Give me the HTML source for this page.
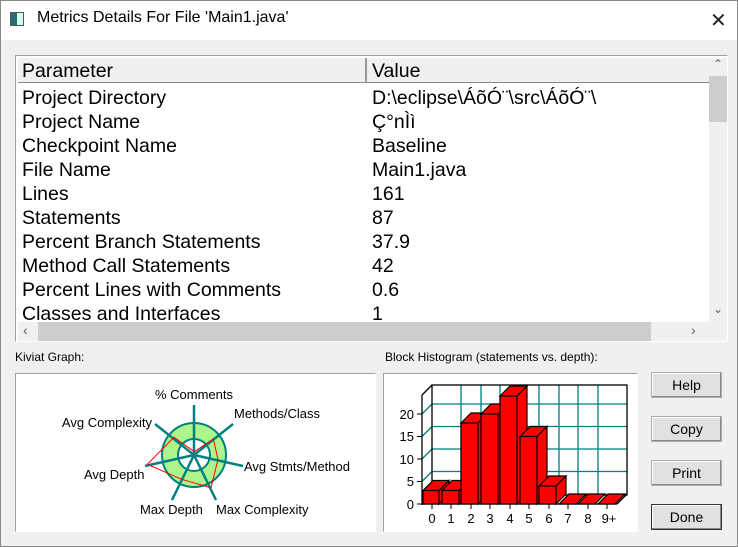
<!DOCTYPE html>
<html><head><style>
*{margin:0;padding:0;box-sizing:border-box}
body{width:738px;height:547px;overflow:hidden;background:#f0f0f0;font-family:"Liberation Sans",Arial,sans-serif;position:relative}
.a{position:absolute;white-space:nowrap}
.row{position:absolute;font-size:19.5px;color:#000;line-height:24px}
.btn{position:absolute;left:651px;width:71px;height:26px;background:#e1e1e1;border:1px solid #adadad;box-shadow:inset -1px -1px 0 #888, inset 1px 1px 0 #fff;font-size:14px;text-align:center;line-height:24px}
</style></head><body>
<div class="a" style="left:0;top:0;width:738px;height:40px;background:#fff"></div>
<div class="a" style="left:0;top:0;width:738px;height:547px;border:1px solid #888"></div>
<div class="a" style="left:10px;top:12px;width:14px;height:14px;border:1px solid #555;background:linear-gradient(90deg,#2a6c7a 0 50%,#cfe 50%)"></div>
<div class="a" style="left:37px;top:9px;font-size:16px">Metrics Details For File 'Main1.java'</div>
<div class="a" style="left:710px;top:8px;font-size:20px;font-weight:300;color:#222">✕</div>

<div class="a" style="left:15px;top:55px;width:713px;height:287px;border:1px solid #a0a0a0;border-right-color:#fff;border-bottom-color:#fff;background:#fff;overflow:hidden">
<div class="a" style="left:2px;top:2px;width:692px;height:25px;background:#f0f0f0;border-bottom:1px solid #888"></div>
<div class="a" style="left:349px;top:2px;width:2px;height:25px;background:#999"></div>
<div class="row" style="left:6px;top:3px">Parameter</div><div class="row" style="left:356px;top:3px">Value</div>
<div class="row" style="left:6px;top:30px">Project Directory</div><div class="row" style="left:356px;top:30px">D:\eclipse\ÁõÓ¨\src\ÁõÓ¨\</div>
<div class="row" style="left:6px;top:54px">Project Name</div><div class="row" style="left:356px;top:54px">Ç°nÌì</div>
<div class="row" style="left:6px;top:78px">Checkpoint Name</div><div class="row" style="left:356px;top:78px">Baseline</div>
<div class="row" style="left:6px;top:102px">File Name</div><div class="row" style="left:356px;top:102px">Main1.java</div>
<div class="row" style="left:6px;top:126px">Lines</div><div class="row" style="left:356px;top:126px">161</div>
<div class="row" style="left:6px;top:150px">Statements</div><div class="row" style="left:356px;top:150px">87</div>
<div class="row" style="left:6px;top:174px">Percent Branch Statements</div><div class="row" style="left:356px;top:174px">37.9</div>
<div class="row" style="left:6px;top:198px">Method Call Statements</div><div class="row" style="left:356px;top:198px">42</div>
<div class="row" style="left:6px;top:222px">Percent Lines with Comments</div><div class="row" style="left:356px;top:222px">0.6</div>
<div class="row" style="left:6px;top:246px">Classes and Interfaces</div><div class="row" style="left:356px;top:246px">1</div>
<div class="a" style="left:693px;top:2px;width:18px;height:265px;background:#f0f0f0"></div>
<div class="a" style="left:693px;top:20px;width:18px;height:46px;background:#cdcdcd"></div>
<div class="a" style="left:697px;top:1px;font-size:12px;color:#606060">⌃</div>
<div class="a" style="left:697px;top:246px;font-size:12px;color:#606060">⌄</div>
<div class="a" style="left:2px;top:266px;width:709px;height:19px;background:#f0f0f0"></div>
<div class="a" style="left:22px;top:266px;width:613px;height:19px;background:#cdcdcd"></div>
<div class="a" style="left:7px;top:266px;font-size:14px;color:#606060">‹</div>
<div class="a" style="left:675px;top:266px;font-size:14px;color:#606060">›</div>
</div>

<div class="a" style="left:15px;top:350px;font-size:12px">Kiviat Graph:</div>
<div class="a" style="left:385px;top:350px;font-size:12px">Block Histogram (statements vs. depth):</div>
<div class="a" style="left:15px;top:373px;width:361px;height:159px;background:#fff;border:1px solid #a0a0a0;border-right-color:#fff;border-bottom-color:#fff"></div>
<div class="a" style="left:383px;top:373px;width:255px;height:159px;background:#fff;border:1px solid #a0a0a0;border-right-color:#fff;border-bottom-color:#fff"></div>

<div class="btn" style="top:372px">Help</div>
<div class="btn" style="top:416px">Copy</div>
<div class="btn" style="top:460px">Print</div>
<div class="btn" style="top:504px;border:1px solid #333">Done</div>

<svg class="a" style="left:0;top:0" width="738" height="547" font-family="Liberation Sans, Arial, sans-serif">
<circle cx="194" cy="455" r="24" fill="none" stroke="#adf58a" stroke-width="16"/>
<circle cx="194" cy="455" r="32" fill="none" stroke="#008080" stroke-width="2"/>
<circle cx="194" cy="455" r="16" fill="none" stroke="#008080" stroke-width="2"/>
<g stroke="#008080" stroke-width="2.5">
<line x1="194" y1="455" x2="194" y2="405"/>
<line x1="194" y1="455" x2="233" y2="424"/>
<line x1="194" y1="455" x2="243" y2="466"/>
<line x1="194" y1="455" x2="216" y2="500"/>
<line x1="194" y1="455" x2="172" y2="500"/>
<line x1="194" y1="455" x2="145" y2="466"/>
<line x1="194" y1="455" x2="155" y2="424"/>
</g>
<polygon points="194.3,451.7 213.3,439 218,459.3 211,487.7 181.7,479.3 147.3,464.3 174,437.3" fill="none" stroke="#f00" stroke-width="1"/>
<g font-size="13" fill="#000">
<text x="194" y="399" text-anchor="middle">% Comments</text>
<text x="234" y="418">Methods/Class</text>
<text x="152" y="427" text-anchor="end">Avg Complexity</text>
<text x="244" y="471">Avg Stmts/Method</text>
<text x="84" y="479">Avg Depth</text>
<text x="140" y="514">Max Depth</text>
<text x="216" y="514">Max Complexity</text>
</g>
<g stroke="#008080" stroke-width="1.3">
<line x1="432" y1="471.5" x2="627" y2="471.5"/><line x1="432" y1="449" x2="627" y2="449"/>
<line x1="432" y1="426.5" x2="627" y2="426.5"/><line x1="432" y1="404" x2="627" y2="404"/>
<line x1="422" y1="481.5" x2="432" y2="471.5"/><line x1="422" y1="459" x2="432" y2="449"/>
<line x1="422" y1="436.5" x2="432" y2="426.5"/><line x1="422" y1="414" x2="432" y2="404"/>
<line x1="461" y1="385" x2="461" y2="494"/><line x1="481" y1="385" x2="481" y2="494"/>
<line x1="500" y1="385" x2="500" y2="494"/><line x1="520" y1="385" x2="520" y2="494"/>
<line x1="539" y1="385" x2="539" y2="494"/><line x1="559" y1="385" x2="559" y2="494"/>
<line x1="578" y1="385" x2="578" y2="494"/><line x1="598" y1="385" x2="598" y2="494"/>
</g>
<g stroke="#000" stroke-width="1.3" fill="none">
<rect x="432" y="385" width="195" height="110"/>
<line x1="422" y1="395" x2="432" y2="385"/>
<line x1="422" y1="395" x2="422" y2="505"/>
<line x1="422" y1="504" x2="617" y2="504"/>
<line x1="617" y1="504" x2="627" y2="494"/>
</g>
<g stroke="#000" stroke-width="1.2" fill="#f00">
<path d="M423,490.5h16v13.5h-16z M423,490.5l10,-10h16l-10,10z M439,490.5l10,-10v13.5l-10,10z"/>
<path d="M442,490.5h17v13.5h-17z M442,490.5l10,-10h17l-10,10z M459,490.5l10,-10v13.5l-10,10z"/>
<path d="M461,423h17v81h-17z M461,423l10,-10h17l-10,10z M478,423l10,-10v81l-10,10z"/>
<path d="M481,414h17v90h-17z M481,414l10,-10h17l-10,10z M498,414l10,-10v90l-10,10z"/>
<path d="M500,396h17v108h-17z M500,396l10,-10h17l-10,10z M517,396l10,-10v108l-10,10z"/>
<path d="M520,436.5h17v67.5h-17z M520,436.5l10,-10h17l-10,10z M537,436.5l10,-10v67.5l-10,10z"/>
<path d="M539,486h17v18h-17z M539,486l10,-10h17l-10,10z M556,486l10,-10v18l-10,10z"/>
<path d="M559,504l10,-10h17l-10,10z"/>
<path d="M578,504l10,-10h17l-10,10z"/>
<path d="M598,504l10,-10h17l-10,10z"/>
</g>
<g font-size="13" fill="#000">
<text x="414" y="509" text-anchor="end">0</text>
<text x="414" y="486" text-anchor="end">5</text>
<text x="414" y="464" text-anchor="end">10</text>
<text x="414" y="441" text-anchor="end">15</text>
<text x="414" y="419" text-anchor="end">20</text>
<g text-anchor="middle">
<text x="432" y="523">0</text><text x="451" y="523">1</text><text x="471" y="523">2</text>
<text x="490" y="523">3</text><text x="510" y="523">4</text><text x="529" y="523">5</text>
<text x="549" y="523">6</text><text x="568" y="523">7</text><text x="588" y="523">8</text>
<text x="609" y="523">9+</text></g>
</g>
<g stroke="#000"><line x1="432" y1="504" x2="432" y2="509"/><line x1="451" y1="504" x2="451" y2="509"/><line x1="471" y1="504" x2="471" y2="509"/><line x1="490" y1="504" x2="490" y2="509"/><line x1="510" y1="504" x2="510" y2="509"/><line x1="529" y1="504" x2="529" y2="509"/><line x1="549" y1="504" x2="549" y2="509"/><line x1="568" y1="504" x2="568" y2="509"/><line x1="588" y1="504" x2="588" y2="509"/><line x1="607" y1="504" x2="607" y2="509"/>
<line x1="417" y1="504" x2="422" y2="504"/><line x1="417" y1="481.5" x2="422" y2="481.5"/><line x1="417" y1="459" x2="422" y2="459"/><line x1="417" y1="436.5" x2="422" y2="436.5"/><line x1="417" y1="414" x2="422" y2="414"/></g>
</svg>
</body></html>
